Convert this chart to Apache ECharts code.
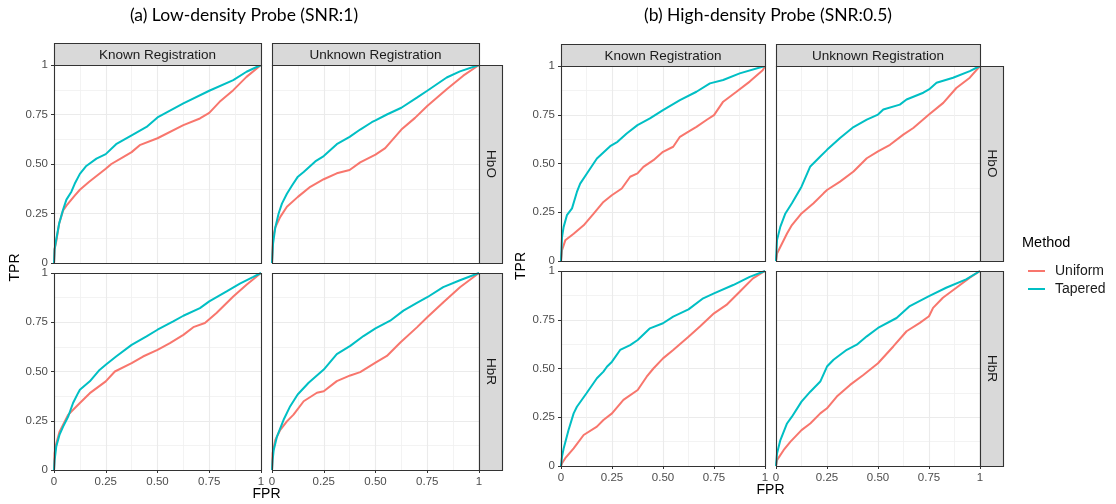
<!DOCTYPE html>
<html>
<head>
<meta charset="utf-8">
<script src="https://cdn.jsdelivr.net/npm/echarts@6/dist/echarts.min.js"></script>
<style>
  html, body { margin: 0; padding: 0; background: #fff; }
  #chart { width: 1116px; height: 504px; }
</style>
</head>
<body>
<div id="chart"></div>
<script>
// ROC curves: [FPR, TPR] pairs per panel and method
const lowKnownHbOUniform = [[0,0],[0.003,0.07],[0.011,0.11],[0.025,0.2],[0.044,0.265],[0.06,0.29],[0.1,0.34],[0.125,0.37],[0.17,0.41],[0.25,0.476],[0.277,0.5],[0.334,0.535],[0.375,0.56],[0.414,0.595],[0.5,0.63],[0.625,0.696],[0.705,0.73],[0.75,0.758],[0.8,0.814],[0.866,0.873],[0.93,0.94],[1,1]];
const lowKnownHbOTapered = [[0,0],[0.003,0.07],[0.011,0.12],[0.025,0.2],[0.044,0.27],[0.06,0.32],[0.084,0.36],[0.1,0.4],[0.125,0.45],[0.156,0.49],[0.205,0.527],[0.25,0.55],[0.3,0.6],[0.375,0.645],[0.447,0.687],[0.5,0.735],[0.625,0.806],[0.75,0.87],[0.866,0.924],[0.93,0.966],[1,1]];
const lowUnknownHbOUniform = [[0,0],[0.005,0.13],[0.016,0.18],[0.04,0.233],[0.072,0.284],[0.125,0.334],[0.185,0.385],[0.25,0.423],[0.313,0.453],[0.375,0.47],[0.426,0.508],[0.5,0.547],[0.547,0.58],[0.625,0.674],[0.691,0.733],[0.75,0.793],[0.844,0.878],[0.924,0.946],[1,1]];
const lowUnknownHbOTapered = [[0,0],[0.005,0.097],[0.016,0.18],[0.032,0.25],[0.048,0.3],[0.072,0.35],[0.096,0.39],[0.125,0.436],[0.153,0.46],[0.209,0.513],[0.25,0.54],[0.313,0.6],[0.375,0.637],[0.426,0.674],[0.482,0.711],[0.5,0.72],[0.555,0.75],[0.625,0.784],[0.7,0.835],[0.75,0.87],[0.844,0.937],[0.908,0.968],[1,1]];
const lowKnownHbRUniform = [[0,0],[0.003,0.085],[0.011,0.135],[0.027,0.195],[0.044,0.23],[0.068,0.28],[0.084,0.297],[0.125,0.34],[0.173,0.39],[0.25,0.45],[0.294,0.5],[0.375,0.542],[0.43,0.576],[0.5,0.61],[0.56,0.644],[0.625,0.686],[0.673,0.725],[0.729,0.746],[0.785,0.797],[0.866,0.881],[0.93,0.94],[1,1]];
const lowKnownHbRTapered = [[0,0],[0.003,0.05],[0.011,0.12],[0.027,0.18],[0.044,0.22],[0.068,0.27],[0.092,0.34],[0.116,0.39],[0.125,0.407],[0.173,0.45],[0.22,0.508],[0.25,0.534],[0.3,0.576],[0.375,0.635],[0.447,0.678],[0.5,0.712],[0.576,0.754],[0.625,0.783],[0.705,0.822],[0.75,0.856],[0.834,0.907],[0.898,0.946],[0.963,0.98],[1,1]];
const lowUnknownHbRUniform = [[0,0],[0.003,0.085],[0.016,0.153],[0.04,0.204],[0.072,0.247],[0.104,0.281],[0.153,0.349],[0.217,0.392],[0.25,0.4],[0.313,0.451],[0.378,0.48],[0.426,0.497],[0.5,0.545],[0.555,0.579],[0.62,0.647],[0.7,0.724],[0.75,0.775],[0.828,0.852],[0.908,0.928],[1,1]];
const lowUnknownHbRTapered = [[0,0],[0.003,0.05],[0.008,0.1],[0.024,0.17],[0.056,0.255],[0.088,0.324],[0.124,0.383],[0.177,0.443],[0.25,0.51],[0.313,0.588],[0.378,0.63],[0.442,0.68],[0.5,0.719],[0.571,0.758],[0.635,0.809],[0.7,0.848],[0.75,0.877],[0.827,0.928],[0.908,0.963],[1,1]];

const highKnownHbOUniform = [[0,0],[0.005,0.055],[0.021,0.106],[0.062,0.14],[0.111,0.183],[0.16,0.243],[0.208,0.303],[0.249,0.337],[0.298,0.372],[0.339,0.432],[0.375,0.449],[0.404,0.483],[0.453,0.517],[0.5,0.56],[0.55,0.586],[0.583,0.637],[0.625,0.663],[0.664,0.688],[0.713,0.723],[0.75,0.748],[0.795,0.817],[0.86,0.868],[0.925,0.92],[0.99,0.98],[1,1]];
const highKnownHbOTapered = [[0,0],[0.005,0.123],[0.013,0.175],[0.029,0.235],[0.054,0.27],[0.078,0.354],[0.094,0.397],[0.127,0.449],[0.176,0.526],[0.241,0.589],[0.277,0.611],[0.322,0.654],[0.375,0.697],[0.436,0.731],[0.5,0.774],[0.583,0.825],[0.664,0.868],[0.73,0.911],[0.795,0.928],[0.876,0.962],[1,1]];
const highUnknownHbOUniform = [[0,0],[0.005,0.038],[0.021,0.072],[0.054,0.141],[0.078,0.184],[0.125,0.244],[0.184,0.296],[0.233,0.347],[0.25,0.364],[0.314,0.407],[0.38,0.459],[0.445,0.527],[0.5,0.562],[0.559,0.596],[0.624,0.648],[0.673,0.682],[0.75,0.751],[0.82,0.811],[0.884,0.887],[0.95,0.94],[1,1]];
const highUnknownHbOTapered = [[0,0],[0.005,0.107],[0.021,0.175],[0.046,0.244],[0.078,0.296],[0.125,0.381],[0.168,0.485],[0.217,0.536],[0.25,0.57],[0.314,0.631],[0.38,0.687],[0.445,0.725],[0.5,0.751],[0.526,0.777],[0.607,0.802],[0.64,0.828],[0.722,0.863],[0.75,0.88],[0.787,0.914],[0.868,0.94],[0.95,0.974],[1,1]];
const highKnownHbRUniform = [[0,0],[0.005,0.014],[0.021,0.04],[0.062,0.09],[0.111,0.159],[0.176,0.202],[0.208,0.236],[0.25,0.27],[0.306,0.339],[0.376,0.39],[0.42,0.458],[0.453,0.5],[0.5,0.552],[0.55,0.595],[0.625,0.663],[0.681,0.715],[0.75,0.783],[0.811,0.826],[0.876,0.894],[0.941,0.962],[1,1]];
const highKnownHbRTapered = [[0,0],[0.005,0.048],[0.013,0.09],[0.037,0.185],[0.062,0.27],[0.078,0.304],[0.125,0.373],[0.176,0.45],[0.208,0.484],[0.225,0.509],[0.25,0.535],[0.29,0.595],[0.339,0.62],[0.376,0.646],[0.436,0.706],[0.5,0.732],[0.55,0.766],[0.625,0.803],[0.697,0.86],[0.75,0.885],[0.844,0.928],[0.925,0.97],[1,1]];
const highUnknownHbRUniform = [[0,0],[0.005,0.03],[0.037,0.081],[0.07,0.124],[0.125,0.184],[0.168,0.218],[0.217,0.27],[0.25,0.296],[0.298,0.356],[0.363,0.416],[0.428,0.467],[0.5,0.527],[0.575,0.613],[0.64,0.691],[0.705,0.734],[0.75,0.768],[0.77,0.811],[0.818,0.863],[0.884,0.914],[0.95,0.966],[1,1]];
const highUnknownHbRTapered = [[0,0],[0.005,0.064],[0.021,0.132],[0.054,0.218],[0.078,0.253],[0.125,0.33],[0.168,0.381],[0.217,0.433],[0.25,0.51],[0.282,0.545],[0.347,0.596],[0.396,0.622],[0.445,0.665],[0.5,0.708],[0.591,0.759],[0.656,0.82],[0.75,0.871],[0.834,0.914],[0.932,0.957],[1,1]];

const methods = ['Uniform', 'Tapered'];
const methodColors = ['#F8766D', '#00BFC4'];
const columnLabels = ['Known Registration', 'Unknown Registration'];
const rowLabels = ['HbO', 'HbR'];
const plotTitles = ['(a) Low-density Probe (SNR:1)', '(b) High-density Probe (SNR:0.5)'];
const tickValues = [0, 0.25, 0.5, 0.75, 1];
const tickLabels = ['0', '0.25', '0.50', '0.75', '1'];

// panels in order: [plot][row][col] -> [uniform, tapered]
const panelData = [
  [[[lowKnownHbOUniform, lowKnownHbOTapered], [lowUnknownHbOUniform, lowUnknownHbOTapered]],
   [[lowKnownHbRUniform, lowKnownHbRTapered], [lowUnknownHbRUniform, lowUnknownHbRTapered]]],
  [[[highKnownHbOUniform, highKnownHbOTapered], [highUnknownHbOUniform, highUnknownHbOTapered]],
   [[highKnownHbRUniform, highKnownHbRTapered], [highUnknownHbRUniform, highUnknownHbRTapered]]]
];

// layout of the two faceted blocks
const blocks = [
  { lefts: [54, 272], width: 207, tops: [65, 273], heights: [198, 197], stripTop: 43, titleX: 244, tprX: 15, fprY: 494 },
  { lefts: [561, 776], width: 204, tops: [66, 271], heights: [195, 195], stripTop: 44, titleX: 768, tprX: 521, fprY: 490 }
];

const labelFmt = v => { const i = tickValues.indexOf(v); return i >= 0 ? tickLabels[i] : ''; };
const tickFont = { fontSize: 11.5, color: '#4D4D4D', fontFamily: 'Liberation Sans' };

const grids = [], xAxes = [], yAxes = [], series = [], graphics = [];
let idx = 0;
blocks.forEach((b, p) => {
  for (let r = 0; r < 2; r++) {
    for (let c = 0; c < 2; c++) {
      grids.push({ left: b.lefts[c], top: b.tops[r], width: b.width, height: b.heights[r], containLabel: false });
      const axisBase = {
        gridIndex: idx, type: 'value', min: 0, max: 1, interval: 0.25,
        axisLine: { show: false },
        splitLine: { show: true, lineStyle: { color: '#EBEBEB', width: 1.1 } },
        minorTick: { show: false, splitNumber: 2 },
        minorSplitLine: { show: true, lineStyle: { color: '#F0F0F0', width: 0.8 } }
      };
      xAxes.push(Object.assign({}, axisBase, {
        axisTick: { show: r === 1, length: 3, lineStyle: { color: '#333333' } },
        axisLabel: Object.assign({ show: r === 1, margin: 6, formatter: labelFmt, showMinLabel: true, showMaxLabel: true }, tickFont)
      }));
      yAxes.push(Object.assign({}, axisBase, {
        axisTick: { show: c === 0, length: 3, lineStyle: { color: '#333333' } },
        axisLabel: Object.assign({ show: c === 0, margin: 6, formatter: labelFmt, showMinLabel: true, showMaxLabel: true }, tickFont)
      }));
      panelData[p][r][c].forEach((d, m) => {
        series.push({ type: 'line', name: methods[m], xAxisIndex: idx, yAxisIndex: idx, data: d,
          showSymbol: false, symbol: 'none', smooth: false, silent: true,
          lineStyle: { color: methodColors[m], width: 2 }, itemStyle: { color: methodColors[m] }, z: 3 });
      });
      // panel border on top of the curves
      graphics.push({ type: 'rect', z: 100, silent: true,
        shape: { x: b.lefts[c] + 0.5, y: b.tops[r] + 0.5, width: b.width, height: b.heights[r] },
        style: { fill: 'none', stroke: '#333333', lineWidth: 1.1 } });
      idx++;
    }
  }
  // top strips
  for (let c = 0; c < 2; c++) {
    graphics.push({ type: 'rect', z: 100, shape: { x: b.lefts[c] + 0.5, y: b.stripTop + 0.5, width: b.width, height: b.tops[0] - b.stripTop },
      style: { fill: '#D9D9D9', stroke: '#333333', lineWidth: 1.1 } });
    graphics.push({ type: 'text', z: 101, x: b.lefts[c] + b.width / 2, y: (b.stripTop + b.tops[0]) / 2 + 1,
      style: { text: columnLabels[c], fill: '#1A1A1A', font: '13.5px "Liberation Sans"', align: 'center', verticalAlign: 'middle' } });
  }
  // right strips
  const sx = b.lefts[1] + b.width;
  for (let r = 0; r < 2; r++) {
    graphics.push({ type: 'rect', z: 100, shape: { x: sx + 0.5, y: b.tops[r] + 0.5, width: 23, height: b.heights[r] },
      style: { fill: '#D9D9D9', stroke: '#333333', lineWidth: 1.1 } });
    graphics.push({ type: 'text', z: 101, x: sx + 12, y: b.tops[r] + b.heights[r] / 2, rotation: -Math.PI / 2,
      style: { text: rowLabels[r], fill: '#1A1A1A', font: '13.5px "Liberation Sans"', align: 'center', verticalAlign: 'middle' } });
  }
  // block title and axis titles
  graphics.push({ type: 'text', x: b.titleX, y: 15,
    style: { text: plotTitles[p], fill: '#000', font: '17.5px Lato', align: 'center', verticalAlign: 'middle' } });
  const midY = (b.tops[0] + b.tops[1] + b.heights[1]) / 2;
  graphics.push({ type: 'text', x: b.tprX, y: midY, rotation: Math.PI / 2,
    style: { text: 'TPR', fill: '#000', font: '14px "Liberation Sans"', align: 'center', verticalAlign: 'middle' } });
  const midX = (b.lefts[0] + b.lefts[1] + b.width) / 2;
  graphics.push({ type: 'text', x: midX, y: b.fprY,
    style: { text: 'FPR', fill: '#000', font: '14px "Liberation Sans"', align: 'center', verticalAlign: 'middle' } });
});

// legend title
graphics.push({ type: 'text', x: 1022, y: 243,
  style: { text: 'Method', fill: '#000', font: '14.5px "Liberation Sans"', align: 'left', verticalAlign: 'middle' } });

const chart = echarts.init(document.getElementById('chart'), null, { renderer: 'canvas' });
chart.setOption({
  animation: false,
  backgroundColor: '#ffffff',
  grid: grids,
  xAxis: xAxes,
  yAxis: yAxes,
  series: series,
  legend: {
    data: methods.map((m, i) => ({ name: m, itemStyle: { color: methodColors[i] } })),
    orient: 'vertical', left: 1023, top: 259, itemWidth: 17, itemHeight: 2, itemGap: 4,
    icon: 'rect', selectedMode: false,
    textStyle: { fontSize: 14, color: '#1A1A1A', fontFamily: 'Liberation Sans', padding: [0, 0, 0, 5] }
  },
  graphic: graphics
});
</script>
</body>
</html>
